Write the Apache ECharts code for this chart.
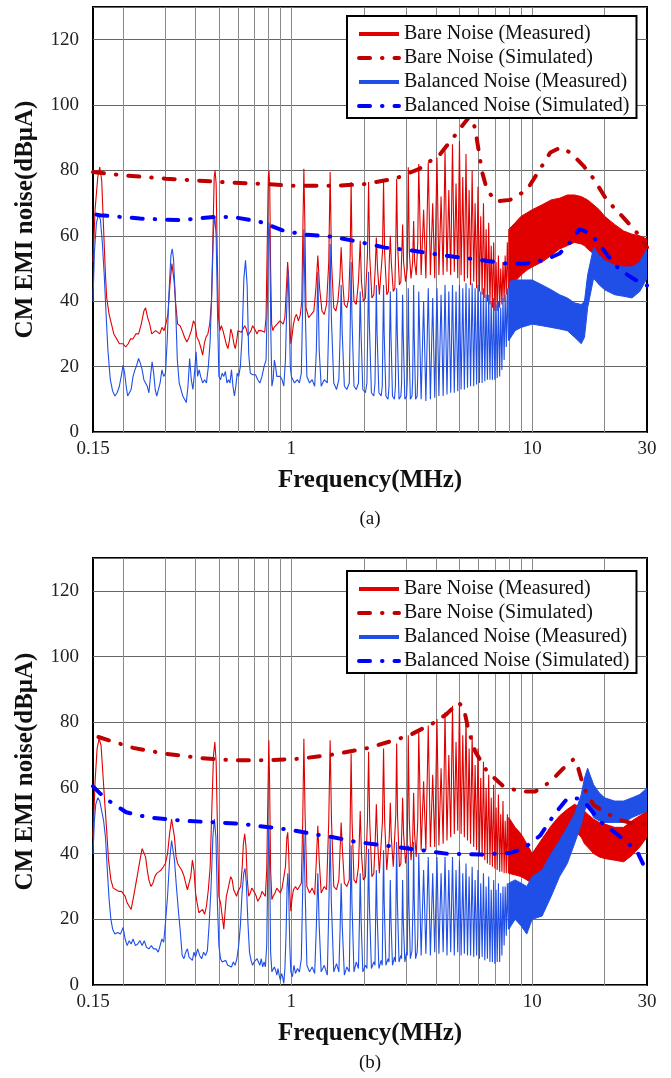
<!DOCTYPE html>
<html>
<head>
<meta charset="utf-8">
<title>CM EMI noise</title>
<script src="https://cdn.jsdelivr.net/npm/echarts@6/dist/echarts.min.js"></script>
<style>
  html, body { margin: 0; padding: 0; background: #fff; }
  #chart { width: 671px; height: 1078px; }
</style>
</head>
<body>
<div id="chart"></div>
<script>
// vertical grid lines (MHz)
const gridLinesMHz = [0.2, 0.3, 0.4, 0.5, 0.6, 0.7, 0.8, 0.9, 1, 2, 3, 4, 5, 6, 7, 8, 9, 10, 20]
const seriesNames = ['Bare Noise (Measured)', 'Bare Noise (Simulated)', 'Balanced Noise (Measured)', 'Balanced Noise (Simulated)']

// ---------- panel (a) ----------
const redMeasA = [
  [0.15,52],[0.153,68],[0.157,78],[0.16,81],[0.163,77],[0.166,62],[0.169,48],[0.171,41],[0.175,36],[0.179,33],[0.183,30],[0.188,28.5],[0.193,27],[0.2,27],[0.205,26],[0.21,27],[0.215,28.5],[0.22,28.5],[0.226,30],[0.232,30],[0.238,33],[0.244,37],[0.248,38],[0.253,35],[0.258,33],[0.263,30],[0.268,29.5],[0.273,31],[0.278,31],[0.284,30],[0.29,32],[0.296,31],[0.301,33],[0.307,36],[0.313,45],[0.319,51.5],[0.322,52],[0.326,46],[0.331,39],[0.337,33],[0.345,32.5],[0.352,31],[0.36,29],[0.368,27.5],[0.376,29],[0.384,31],[0.392,34],[0.398,33],[0.405,29],[0.412,28],[0.42,26],[0.428,23.5],[0.435,27],[0.442,29],[0.45,30],[0.458,33],[0.466,40],[0.473,62],[0.478,78],[0.482,80],[0.487,76],[0.492,55],[0.498,35],[0.505,31],[0.512,32.5],[0.52,31],[0.528,29],[0.536,27],[0.545,25.5],[0.553,28],[0.56,31.5],[0.568,30],[0.577,27],[0.585,25.5],[0.593,28],[0.6,31],[0.61,31.5],[0.62,30.5],[0.63,31],[0.64,32.5],[0.65,31.5],[0.66,29.5],[0.67,30],[0.68,31],[0.69,32.5],[0.7,32.5],[0.71,31],[0.72,30],[0.73,31],[0.74,30.5],[0.75,31],[0.76,31.5],[0.775,30.5],[0.785,35],[0.795,60],[0.802,78],[0.807,80],[0.813,76],[0.82,50],[0.828,33],[0.838,31],[0.848,32],[0.86,32.5],[0.872,33],[0.885,33.5],[0.897,34],[0.91,34],[0.925,33],[0.94,35],[0.955,45],[0.965,52],[0.975,47],[0.985,33],[0.995,27],[1.005,29],[1.02,33],[1.035,35],[1.05,36],[1.07,34],[1.09,36],[1.105,40],[1.118,65],[1.127,80.5],[1.137,65],
  [1.15,38],[1.18,35],[1.21,36],[1.24,37],[1.265,44],[1.288,54],[1.31,44],[1.34,37],[1.37,36],[1.4,39],[1.43,52],[1.449,79.5],[1.468,52],[1.5,38],[1.53,37],[1.56,40],[1.59,47],[1.61,56.5],[1.63,47],[1.66,39],[1.7,38],[1.73,41],[1.755,54],[1.771,76.5],[1.787,54],[1.82,40],[1.86,39],[1.9,46],[1.932,58.5],[1.955,46],[1.99,40],[2.03,41],[2.07,54],[2.093,76.5],[2.115,54],[2.16,41],[2.2,42],[2.23,50],[2.254,59.5],[2.28,50],[2.32,42],[2.36,42],[2.39,55],[2.415,76.5],[2.44,55],[2.49,42],[2.53,43],[2.55,52],[2.576,60],[2.6,52],[2.65,43],[2.69,44],[2.715,58],[2.737,77.5],[2.76,58],[2.81,45],[2.85,46],[2.875,55],[2.898,63.5],[2.925,52],[2.98,46],[3.03,50],[3.059,81],[3.09,55],[3.14,47],[3.19,52],[3.22,64.5],[3.25,52],[3.3,48],[3.35,58],[3.381,82],
  [3.46,48],[3.542,68],[3.62,47],[3.703,82.5],[3.78,48],[3.864,70],[3.94,47],[4.025,84],[4.1,48],[4.186,72],[4.27,48],[4.347,86],[4.43,49],[4.508,74],[4.59,48],[4.669,88],[4.75,49],[4.83,76],[4.91,47],[4.991,89],[5.07,48],[5.152,78],[5.23,46],[5.313,85],[5.39,47],[5.474,74],[5.55,45],[5.635,80],[5.72,46],[5.796,70],[5.88,44],[5.957,75],[6.04,43],[6.118,66],[6.2,42],[6.279,70],[6.36,41],[6.44,62],[6.52,40],[6.601,64],[6.68,39],[6.762,57],[6.84,38],[6.923,58],[7.0,37],[7.084,52],[7.16,37],[7.245,54],[7.33,38],[7.406,50],[7.49,39],[7.567,52],[7.65,40],[7.728,54],[7.81,42],[7.889,58],[7.97,44],[8.0,44]
]
const blueMeasA = [
  [0.15,40],[0.152,55],[0.155,64],[0.158,66.5],[0.161,65],[0.164,58],[0.167,48],[0.17,36],[0.173,25],[0.177,16],[0.181,12.5],[0.185,11],[0.189,12],[0.193,14],[0.197,17.5],[0.2,20.5],[0.203,18],[0.206,14],[0.209,11],[0.212,10.5],[0.216,13],[0.22,17],[0.224,19],[0.228,20.5],[0.232,22.5],[0.236,21],[0.24,19],[0.244,16],[0.248,15],[0.252,14],[0.256,12],[0.26,17],[0.264,21.5],[0.268,18],[0.272,13],[0.276,11],[0.28,11],[0.285,15],[0.29,19],[0.295,17],[0.3,18],[0.305,28],[0.31,42],[0.316,54],[0.32,56],[0.324,53],[0.33,40],[0.336,22],[0.342,15],[0.348,13],[0.354,11],[0.36,11.5],[0.366,9],[0.372,14],[0.378,22.5],[0.384,16],[0.39,13],[0.396,18],[0.402,24.5],[0.408,17],[0.414,19],[0.42,17],[0.428,15],[0.436,16],[0.444,15],[0.452,20],[0.46,28],[0.468,45],[0.475,62],[0.481,66],[0.487,60],[0.494,35],[0.5,17],[0.508,16],[0.516,18],[0.524,17],[0.532,18.5],[0.54,15],[0.548,16],[0.556,15],[0.564,19],[0.572,14],[0.58,11],[0.588,14],[0.596,18],[0.604,17],[0.614,20],[0.625,30],[0.635,47],[0.645,52.5],[0.655,45],[0.665,24],[0.675,18],[0.69,17.5],[0.7,17],[0.71,17.5],[0.725,16],[0.74,15],[0.755,17],[0.77,20],[0.785,22],[0.795,40],[0.802,60],[0.808,64],[0.814,58],[0.822,30],[0.83,14],[0.84,16],[0.85,22],[0.86,20],[0.87,17],[0.885,16.5],[0.9,17],[0.915,16],[0.93,14],[0.945,22],[0.958,40],[0.968,49.5],[0.978,40],[0.99,20],[1.0,17],[1.015,16],[1.03,15],[1.045,14.5],[1.06,16],[1.08,15],[1.1,18],[1.115,40],[1.127,62],[1.14,40],
  [1.16,17],[1.19,15],[1.22,16],[1.25,14],[1.27,25],[1.288,49],[1.305,25],[1.33,14],[1.37,16],[1.41,15],[1.432,35],[1.449,57.5],[1.466,35],[1.5,15],[1.54,13],[1.575,16],[1.595,30],[1.61,45],[1.627,30],[1.66,14],[1.7,13],[1.74,15],[1.758,35],[1.771,52],[1.785,35],[1.82,14],[1.86,13],[1.9,15],[1.918,30],[1.932,43],[1.948,30],[1.98,13],[2.03,12],[2.06,15],[2.078,33],[2.093,49],[2.108,33],[2.15,12],[2.2,11],[2.225,15],[2.24,30],[2.254,45],[2.27,30],[2.31,12],[2.36,11],[2.385,14],[2.4,30],[2.415,45],[2.43,30],[2.47,11],[2.52,10],[2.545,14],[2.56,30],[2.576,43],[2.592,30],[2.63,11],[2.68,10],[2.705,14],[2.72,30],[2.737,44],[2.755,30],[2.8,10],[2.85,11],[2.87,15],[2.883,30],[2.898,42],[2.915,30],[2.96,10],[3.01,11],[3.03,16],[3.045,30],[3.059,44],[3.075,30],[3.12,10],[3.17,11],[3.19,16],[3.205,30],[3.22,45],[3.237,30],[3.28,10],[3.33,11],[3.35,18],[3.381,43],
  [3.46,10],[3.542,40],[3.62,9.5],[3.703,44],[3.78,10],[3.864,41],[3.94,10.5],[4.025,44],[4.1,11],[4.186,42],[4.27,11],[4.347,45],[4.43,11.5],[4.508,43],[4.59,12],[4.669,45],[4.75,12],[4.83,43],[4.91,12.5],[4.991,45],[5.07,13],[5.152,44],[5.23,13],[5.313,45.5],[5.39,13.5],[5.474,44],[5.55,14],[5.635,45.5],[5.72,14],[5.796,44],[5.88,14.5],[5.957,45],[6.04,15],[6.118,43],[6.2,15],[6.279,44],[6.36,15.5],[6.44,42],[6.52,16],[6.601,42],[6.68,16],[6.762,40],[6.84,16],[6.923,41],[7.0,16],[7.084,39],[7.16,16.5],[7.245,40],[7.33,17],[7.406,38],[7.49,19],[7.567,41],[7.65,22],[7.728,42],[7.81,26],[7.889,44],[7.97,28],[8.0,28]
]
const redSimA = [[0.15,79.5],[0.2,78.5],[0.3,77.5],[0.5,76.5],[0.8,75.8],[1.0,75.3],[1.5,75.3],[2.0,75.8],[2.7,77.5],[3.4,80.5],[4.15,85],[4.7,90],[5.1,93.5],[5.5,96.5],[5.7,95],[5.85,91],[6.0,86],[6.2,79.5],[6.5,74],[7.1,70.5],[8.1,71],[9.5,74],[10.6,79.5],[11.9,85.5],[13.1,87],[14.4,85.5],[16.3,81.5],[18,77.5],[20.4,71],[24,65.5],[27.2,61],[30,56.5]]
const blueSimA = [[0.155,66.5],[0.16,66.3],[0.235,65.3],[0.345,64.8],[0.48,65.8],[0.57,65.8],[0.74,64.3],[0.92,61.7],[1.12,60.4],[1.5,59.7],[1.95,58],[2.45,56.4],[3.1,55.6],[4.4,53.9],[6.0,52.7],[7.8,51.5],[9.4,51.5],[11.4,52.7],[13,54.6],[14.3,57.8],[15.7,62],[16.5,61.5],[17.9,59.8],[20.3,54.6],[23.1,49.6],[26.2,47],[29,45.1],[30,44.8]]

// dense part above 8 MHz drawn as a band (lower / upper envelope)
const bandF =      [8,  8.5, 9,   9.5,  10,   11,   12,   13,   14,   15,   16,   16.5, 17,   18,   19,   20,   22,   24,   26,   28,   30]
const redHiA =     [62, 64,  66,  67,   68,   69.5, 71,   71.5, 72.5, 72.5, 72,   71.5, 71,   69.5, 68,   66,   63.5, 61.5, 60.5, 60,   59]
const redLoA =     [44, 46,  48,  49.5, 50.5, 52,   54,   56,   57,   58,   57.5, 57,   56,   54.5, 53,   52,   50,   49,   48,   48.5, 50]
const blueHiA =    [46, 46.5,46.5,46.5, 46.5, 45,   43.5, 42,   41,   39.5, 39,   40,   48,   56.5, 54,   52.5, 51,   50.5, 50.5, 52,   56]
const blueLoA =    [28, 31,  32,  32.5, 33,   32.5, 32,   31.5, 31,   29,   27,   29,   38,   47,   45,   43.5, 42,   41.5, 41,   43,   47]

// ---------- panel (b) ----------
const redMeasB = [
  [0.15,45],[0.153,62],[0.156,72],[0.159,75],[0.162,73],[0.165,64],[0.168,55],[0.171,47],[0.174,38],[0.178,32],[0.182,29.5],[0.187,29],[0.192,28.5],[0.197,28.5],[0.2,28],[0.204,27],[0.208,25],[0.212,24],[0.216,23],[0.22,26],[0.225,30],[0.23,34],[0.235,38],[0.24,41.5],[0.244,42],[0.248,39],[0.252,35],[0.256,32],[0.261,30],[0.266,31],[0.271,33],[0.276,34],[0.282,34.5],[0.288,35],[0.294,36],[0.3,37],[0.306,40],[0.312,46],[0.318,50.5],[0.322,51],[0.327,45],[0.332,39],[0.337,37],[0.343,36],[0.35,35],[0.357,33.5],[0.364,31],[0.37,29],[0.376,28.5],[0.382,33],[0.388,38],[0.394,35],[0.4,28],[0.406,25],[0.413,22],[0.42,21.5],[0.428,23],[0.436,21.5],[0.444,24],[0.452,29],[0.46,36],[0.468,55],[0.475,70],[0.481,74],[0.487,68],[0.494,45],[0.5,27],[0.508,25],[0.516,21],[0.524,17],[0.53,22],[0.537,27],[0.545,29],[0.552,31],[0.56,33],[0.568,32],[0.576,29],[0.584,28],[0.592,27],[0.6,28.5],[0.608,29],[0.616,30],[0.625,36],[0.632,43],[0.64,46],[0.648,42],[0.656,32],[0.665,27],[0.675,28],[0.685,29.5],[0.695,29],[0.705,28],[0.715,27],[0.725,25.5],[0.735,26],[0.745,27],[0.755,28.5],[0.765,28],[0.78,27],[0.79,35],[0.8,60],[0.806,74.5],[0.812,62],[0.82,35],[0.83,26],[0.84,27],[0.855,28],[0.87,29.5],[0.885,29],[0.9,28],[0.915,29.5],[0.93,30],[0.945,36],[0.958,45],[0.966,46.5],[0.975,40],[0.985,28],[0.995,22.5],[1.005,26],[1.02,29],[1.04,30],[1.06,29],[1.08,30],[1.1,31],[1.115,50],[1.127,75],[1.14,52],
  [1.16,30],[1.19,28],[1.22,29.5],[1.25,27.5],[1.27,38],[1.288,48.5],[1.305,38],[1.33,28],[1.37,30],[1.4,29],[1.43,50],[1.449,74.5],[1.468,50],[1.5,30],[1.54,29],[1.575,32],[1.595,42],[1.61,49.5],[1.627,42],[1.66,31],[1.7,30],[1.74,32],[1.755,50],[1.771,70.5],[1.787,50],[1.82,32],[1.86,31],[1.9,36],[1.932,53],[1.955,40],[1.99,32],[2.03,33],[2.07,50],[2.093,71],[2.115,50],[2.16,33],[2.2,34],[2.23,44],[2.254,55],[2.28,44],[2.32,34],[2.36,34],[2.39,50],[2.415,72],[2.44,50],[2.49,35],[2.53,35],[2.55,45],[2.576,55.5],[2.6,45],[2.65,36],[2.69,36],[2.715,52],[2.737,73.5],[2.76,52],[2.81,36],[2.85,37],[2.875,47],[2.898,57],[2.925,46],[2.98,37],[3.03,42],[3.059,76],[3.09,50],[3.14,38],[3.19,44],[3.22,58.5],[3.25,46],[3.3,39],[3.35,50],[3.381,77],
  [3.46,41],[3.542,62],[3.62,41],[3.703,79],[3.78,42],[3.864,64],[3.94,42],[4.025,81],[4.1,42.5],[4.186,66],[4.27,43],[4.347,83],[4.43,44],[4.508,70],[4.59,45],[4.669,85],[4.75,46],[4.83,74],[4.91,47],[4.991,86],[5.07,46],[5.152,76],[5.23,45],[5.313,82],[5.39,44],[5.474,72],[5.55,43],[5.635,76],[5.72,42],[5.796,67],[5.88,41],[5.957,72],[6.04,40],[6.118,63],[6.2,39],[6.279,68],[6.36,38],[6.44,60],[6.52,37],[6.601,64],[6.68,36.5],[6.762,57],[6.84,36],[6.923,61],[7.0,35.5],[7.084,54],[7.16,35],[7.245,58],[7.33,34.5],[7.406,52],[7.49,34.5],[7.567,56],[7.65,34],[7.728,50],[7.81,34],[7.889,52],[7.97,34],[8.0,34]
]
const blueMeasB = [
  [0.15,40],[0.152,50],[0.154,55],[0.157,57],[0.16,56],[0.163,53],[0.166,50],[0.169,45],[0.172,35],[0.175,26],[0.178,20],[0.181,17],[0.185,15.5],[0.19,16],[0.195,15.5],[0.2,17.5],[0.204,14],[0.208,12],[0.212,13.5],[0.216,12.5],[0.22,14],[0.225,12],[0.23,12.5],[0.235,13.5],[0.24,12],[0.245,13.5],[0.25,11.5],[0.256,11],[0.262,12],[0.268,11],[0.274,11],[0.28,10],[0.285,9.5],[0.29,14],[0.295,13],[0.3,19],[0.306,27],[0.312,38],[0.318,44],[0.322,44.5],[0.327,38],[0.333,30],[0.34,22],[0.346,16],[0.352,9],[0.358,8],[0.364,10],[0.37,11],[0.376,8.5],[0.382,9],[0.388,7.5],[0.394,10],[0.4,8.5],[0.408,11],[0.416,9],[0.424,8],[0.432,10],[0.44,9],[0.448,10.5],[0.456,19],[0.464,30],[0.472,45],[0.479,50.5],[0.486,45],[0.493,25],[0.5,12],[0.508,8],[0.516,7],[0.524,6.5],[0.534,7.5],[0.544,6],[0.554,6.5],[0.564,5.5],[0.574,7],[0.584,6],[0.594,8],[0.604,12],[0.614,18],[0.624,28],[0.634,34],[0.642,35.5],[0.65,31],[0.66,19],[0.67,10],[0.68,7.5],[0.69,6],[0.7,7],[0.71,6.5],[0.72,8],[0.73,7],[0.74,6],[0.75,8],[0.76,5.5],[0.77,7],[0.78,5.5],[0.79,12],[0.798,35],[0.806,48],[0.813,35],[0.82,10],[0.83,4],[0.84,3.5],[0.85,5.5],[0.86,4.5],[0.87,3],[0.88,5],[0.89,3],[0.9,1.5],[0.91,3.5],[0.92,2.5],[0.93,0.5],[0.94,5],[0.95,15],[0.96,30],[0.967,34],[0.975,28],[0.985,12],[0.995,4],[1.01,2.5],[1.025,6],[1.04,3.5],[1.06,5],[1.08,4],[1.1,8],[1.115,30],[1.127,46.5],[1.14,30],
  [1.16,6],[1.19,4],[1.22,5.5],[1.25,3.5],[1.27,18],[1.288,34],[1.305,18],[1.33,4],[1.37,6],[1.41,3],[1.432,25],[1.449,45.5],[1.466,25],[1.5,4],[1.54,6.5],[1.575,4],[1.595,18],[1.61,31],[1.627,18],[1.66,3],[1.7,5.5],[1.74,4],[1.758,25],[1.771,42.5],[1.785,25],[1.82,4],[1.86,7],[1.9,5],[1.918,20],[1.932,34],[1.948,20],[1.98,4],[2.03,6],[2.06,5],[2.078,25],[2.093,41.5],[2.108,25],[2.15,5],[2.2,7],[2.225,6],[2.24,22],[2.254,35],[2.27,22],[2.31,5],[2.36,7.5],[2.385,6],[2.4,25],[2.415,41],[2.43,25],[2.47,6],[2.52,8],[2.545,7],[2.56,20],[2.576,32],[2.592,20],[2.63,6],[2.68,8.5],[2.705,7],[2.72,26],[2.737,43.5],[2.755,26],[2.8,7],[2.85,9],[2.87,8],[2.883,20],[2.898,32],[2.915,20],[2.96,7],[3.01,10],[3.03,9],[3.045,26],[3.059,42.5],[3.075,26],[3.12,8],[3.17,10.5],[3.19,10],[3.205,27],[3.22,43.5],[3.237,27],[3.28,8],[3.33,10],[3.35,15],[3.381,40],
  [3.46,9],[3.542,35],[3.62,9.5],[3.703,39],[3.78,9],[3.864,34],[3.94,10],[4.025,39],[4.1,9.5],[4.186,34],[4.27,10],[4.347,39],[4.43,9],[4.508,35],[4.59,10],[4.669,39],[4.75,9],[4.83,35],[4.91,10],[4.991,38],[5.07,9],[5.152,34],[5.23,9.5],[5.313,37],[5.39,9],[5.474,33],[5.55,9],[5.635,36],[5.72,8.5],[5.796,32],[5.88,9],[5.957,35],[6.04,8],[6.118,31],[6.2,8.5],[6.279,34],[6.36,7.5],[6.44,30],[6.52,8],[6.601,33],[6.68,7],[6.762,29],[6.84,7],[6.923,32],[7.0,6.5],[7.084,29],[7.16,7],[7.245,31],[7.33,7],[7.406,28],[7.49,9],[7.567,30],[7.65,12],[7.728,30],[7.81,15],[7.889,31],[7.97,17],[8.0,17]
]
const redSimB = [[0.158,75.5],[0.16,75],[0.22,72.2],[0.3,70.4],[0.42,69.1],[0.57,68.4],[0.79,68.4],[1.09,68.9],[1.5,70.2],[2.1,72.2],[3.05,75.8],[3.9,79.8],[4.4,82.4],[4.95,86],[5.2,84.3],[5.45,77.3],[5.8,71.1],[6.5,65],[7.6,60.5],[8.9,58.9],[10.3,58.9],[11.9,61.9],[13.5,66],[14.9,68.8],[15.4,67],[16.4,60],[18,54.8],[20.5,52.2],[23.3,50.2],[26.5,49.1],[30,49]]
const blueSimB = [[0.15,60.5],[0.16,58.4],[0.175,56],[0.206,52.6],[0.255,51],[0.355,50],[0.49,49.5],[0.63,49],[0.79,48.1],[1.0,47.2],[1.24,45.9],[1.49,45],[1.88,43.5],[2.42,42.5],[3.5,41],[4.4,40],[6.1,39.7],[8.1,40.2],[9.2,41.5],[10.8,45.5],[12.3,51.7],[14,56.8],[15.4,56.8],[16.9,54.8],[19.3,49.6],[21.9,46.6],[24.8,43.5],[27.4,40.4],[30,34.3]]

const redHiB =     [51, 48,  46,  43,   40,   44.5, 48.5, 51.5, 53.5, 55,   54,   53,   52,   50.5, 49.5, 49,   48,   48,   50,   51.5, 53]
const redLoB =     [34, 33.5,33,  32,   31,   33,   38,   41,   43.5, 47,   45,   43,   42,   40,   39,   38.5, 38,   37.5, 39.5, 42,   45]
const blueHiB =    [31, 32,  31,  30,   33,   35,   40,   44,   48,   52,   58,   63,   66,   61,   58.5, 57,   56,   56,   57,   58,   60]
const blueLoB =    [17, 20,  18,  15.5, 20,   21,   27,   33,   37,   43,   49,   53,   55,   51,   50,   49.5, 49.5, 49.5, 51,   52,   53]

// ---------- styles ----------
const RED = '#e00000'
const RED_SIM = '#c00000'
const BLUE = '#1f4fe6'
const BLUE_SIM = '#0000ff'
const SERIF = '"Liberation Serif", "Times New Roman", serif'
const DASH_DOT = [11, 12, 0.5, 12]

const panels = [
  { top: 7, height: 425, legendTop: 16, tag: '(a)', tagY: 519,
    redMeas: redMeasA, blueMeas: blueMeasA, redSim: redSimA, blueSim: blueSimA,
    redHi: redHiA, redLo: redLoA, blueHi: blueHiA, blueLo: blueLoA },
  { top: 558, height: 427, legendTop: 571, tag: '(b)', tagY: 1063,
    redMeas: redMeasB, blueMeas: blueMeasB, redSim: redSimB, blueSim: blueSimB,
    redHi: redHiB, redLo: redLoB, blueHi: blueHiB, blueLo: blueLoB }
]

const grids = []
const xAxes = []
const yAxes = []
const series = []
const legends = []
const graphics = []

// filled band between lower and upper envelope, placed with the axis scales
const bandSeries = (idx, lo, hi, color) => {
  series.push({
    type: 'custom', xAxisIndex: idx, yAxisIndex: idx, silent: true, clip: true, z: 2,
    data: bandF.map((f, i) => [f, lo[i], hi[i]]),
    encode: { x: 0, y: [1, 2] },
    renderItem: (params, api) => {
      if (params.dataIndex !== 0) return null
      const top = bandF.map((f, i) => api.coord([f, hi[i]]))
      const bottom = bandF.map((f, i) => api.coord([f, lo[i]])).reverse()
      return {
        type: 'polygon',
        shape: { points: top.concat(bottom) },
        style: { fill: color, stroke: color, lineWidth: 1 }
      }
    }
  })
}

panels.forEach((p, idx) => {
  grids.push({
    left: 93, top: p.top, width: 554, height: p.height,
    show: true, borderColor: '#000', borderWidth: 2, backgroundColor: '#fff'
  })
  xAxes.push({
    type: 'log', gridIndex: idx, min: 0.15, max: 30, logBase: 10,
    name: 'Frequency(MHz)', nameLocation: 'middle', nameGap: 36,
    nameTextStyle: { fontFamily: SERIF, fontWeight: 'bold', fontSize: 25, color: '#111' },
    axisLine: { show: false }, axisTick: { show: false }, splitLine: { show: false },
    axisLabel: {
      fontFamily: SERIF, fontSize: 19, color: '#222', margin: 8,
      showMinLabel: true, showMaxLabel: true,
      formatter: (v) => String(+(+v).toPrecision(3))
    }
  })
  yAxes.push({
    type: 'value', gridIndex: idx, min: 0, max: 130, interval: 20,
    name: 'CM EMI noise(dBμA)', nameLocation: 'middle', nameGap: 55,
    nameTextStyle: { fontFamily: SERIF, fontWeight: 'bold', fontSize: 25, color: '#111' },
    axisLine: { show: false }, axisTick: { show: false },
    splitLine: { show: true, lineStyle: { color: '#666', width: 1 } },
    axisLabel: {
      fontFamily: SERIF, fontSize: 19, color: '#222', margin: 14,
      formatter: (v) => (v % 20 === 0 ? String(v) : '')
    }
  })

  // vertical grid lines
  series.push({
    name: 'grid' + idx, type: 'line', xAxisIndex: idx, yAxisIndex: idx, data: [], silent: true,
    markLine: {
      z: 1, silent: true, symbol: ['none', 'none'], label: { show: false },
      lineStyle: { type: 'solid', color: '#8a8a8a', width: 1 },
      data: gridLinesMHz.map((f) => ({ xAxis: f }))
    }
  })

  series.push({
    name: seriesNames[0], type: 'line', xAxisIndex: idx, yAxisIndex: idx,
    symbol: 'none', z: 2, lineStyle: { color: RED, width: 1.1 }, itemStyle: { color: RED },
    data: p.redMeas
  })
  bandSeries(idx, p.redLo, p.redHi, RED)
  series.push({
    name: seriesNames[2], type: 'line', xAxisIndex: idx, yAxisIndex: idx,
    symbol: 'none', z: 2, lineStyle: { color: BLUE, width: 1.1 }, itemStyle: { color: BLUE },
    data: p.blueMeas
  })
  bandSeries(idx, p.blueLo, p.blueHi, BLUE)
  series.push({
    name: seriesNames[1], type: 'line', xAxisIndex: idx, yAxisIndex: idx,
    symbol: 'none', z: 3,
    lineStyle: { color: RED_SIM, width: 4, type: DASH_DOT, cap: 'round' }, itemStyle: { color: RED_SIM },
    data: p.redSim
  })
  series.push({
    name: seriesNames[3], type: 'line', xAxisIndex: idx, yAxisIndex: idx,
    symbol: 'none', z: 3,
    lineStyle: { color: BLUE_SIM, width: 4, type: DASH_DOT, cap: 'round' }, itemStyle: { color: BLUE_SIM },
    data: p.blueSim
  })

  legends.push({
    data: seriesNames, orient: 'vertical', left: 347, top: p.legendTop,
    backgroundColor: '#fff', borderColor: '#000', borderWidth: 2,
    padding: [6, 7, 0, 10], itemWidth: 40, itemHeight: 12, itemGap: 0,
    lineStyle: { width: 4 }, itemStyle: { opacity: 0, borderWidth: 0 },
    selectedMode: false, z: 10,
    textStyle: { fontFamily: SERIF, fontSize: 20, color: '#111', lineHeight: 24 }
  })

  graphics.push({
    type: 'text', x: 370, y: p.tagY,
    style: { text: p.tag, font: '19px ' + SERIF, fill: '#111', textAlign: 'center', textVerticalAlign: 'middle' }
  })
})

const chart = echarts.init(document.getElementById('chart'), null, { renderer: 'canvas' })
chart.setOption({
  animation: false,
  backgroundColor: '#fff',
  grid: grids,
  xAxis: xAxes,
  yAxis: yAxes,
  legend: legends,
  graphic: graphics,
  series: series
})
</script>
</body>
</html>
